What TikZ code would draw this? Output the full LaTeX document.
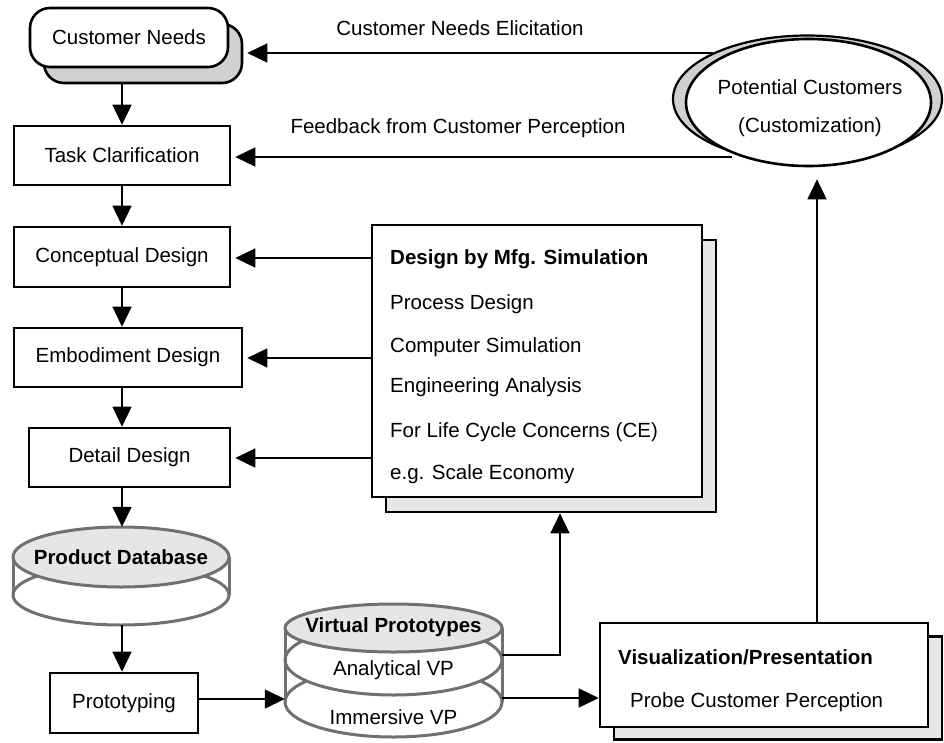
\documentclass[tikz,border=0pt]{standalone}
\usepackage{fontspec}
\setmainfont{Liberation Sans}
\usetikzlibrary{arrows.meta,shapes.geometric}
\definecolor{shadowgray}{HTML}{D0D0D2}
\definecolor{lightfill}{HTML}{E6E6E8}
\definecolor{cylgray}{HTML}{707070}
\begin{document}
\begin{tikzpicture}[x=1pt,y=-1pt,
  font=\fontsize{20.5}{24}\selectfont,
  box/.style={draw=black,line width=2.6pt,fill=white,inner sep=0pt},
  arr/.style={draw=black,line width=1.5pt,-{Triangle[length=20pt,width=19pt]}},
  txt/.style={inner sep=0pt,anchor=base west},
  ctxt/.style={inner sep=0pt},
  cyl/.style={draw=cylgray,line width=3pt},
  hidden/.style={draw=none,inner sep=0pt}
]
\useasboundingbox[fill=white] (0,0) rectangle (944,742);

% ---------- left column ----------
\node[box,fill=shadowgray,rounded corners=20pt,minimum width=198pt,minimum height=59pt] (cns) at (143,53.5) {};
\node[box,rounded corners=20pt,minimum width=198pt,minimum height=59pt] (cn) at (129,37.5) {Customer Needs};
\node[box,minimum width=216pt,minimum height=59pt] (tc) at (122,155.5) {Task Clarification};
\node[box,minimum width=216pt,minimum height=60pt] (cd) at (122,257) {Conceptual Design};
\node[box,minimum width=228pt,minimum height=59pt] (ed) at (128,357.5) {Embodiment Design};
\node[box,minimum width=201pt,minimum height=59pt] (dd) at (129.5,457.5) {Detail Design};
\node[box,minimum width=148pt,minimum height=60pt] (pt) at (124,703) {Prototyping};

% ---------- Product Database cylinder ----------
\node[hidden,minimum width=216pt,minimum height=98pt] (pd) at (121,576) {};
\draw[cyl,fill=white] (121,595) ellipse [x radius=108pt, y radius=30pt];
\draw[cyl] (13,557) -- (13,595) (229,557) -- (229,595);
\draw[cyl,fill=lightfill] (121,557) ellipse [x radius=108pt, y radius=30pt];
\node[ctxt,font=\fontsize{20.5}{24}\selectfont\bfseries] (pdt) at (121,557) {Product Database};

% ---------- Virtual Prototypes cylinder ----------
\node[hidden,minimum width=217pt,minimum height=132pt] (vp) at (393.5,671) {};
\draw[cyl,fill=white] (393.5,702) ellipse [x radius=108.5pt, y radius=35pt];
\draw[cyl,fill=white] (393.5,660) ellipse [x radius=108.5pt, y radius=35pt];
\draw[cyl] (285,628) -- (285,702) (502,628) -- (502,702);
\draw[cyl,fill=lightfill] (393.5,628) ellipse [x radius=108.5pt, y radius=24pt];
\node[ctxt,font=\fontsize{20.5}{24}\selectfont\bfseries] (vpt) at (393.5,627) {Virtual Prototypes};
\node[ctxt] (avp) at (393.5,670) {Analytical VP};
\node[ctxt] (ivp) at (393.5,717) {Immersive VP};

% ---------- Design by Mfg. Simulation ----------
\node[box,fill=lightfill,minimum width=330pt,minimum height=272pt] (dms) at (551,376) {};
\node[box,minimum width=330pt,minimum height=272pt] (dm) at (537,361) {};
\node[txt,font=\fontsize{20.5}{24}\selectfont\bfseries] (dm1) at (390,264.5) {Design by Mfg. Simulation};
\node[txt] (dm2) at (390,309.5) {Process Design};
\node[txt] (dm3) at (390,352.5) {Computer Simulation};
\node[txt] (dm4) at (390,392.5) {Engineering Analysis};
\node[txt] (dm5) at (390,437.5) {For Life Cycle Concerns (CE)};
\node[txt] (dm6) at (390,479.5) {e.g. Scale Economy};

% ---------- Visualization / Presentation ----------
\node[box,fill=lightfill,minimum width=328pt,minimum height=103pt] (viss) at (778,688) {};
\node[box,minimum width=328pt,minimum height=104pt] (vis) at (764,675) {};
\node[txt,font=\fontsize{20.5}{24}\selectfont\bfseries] (vis1) at (618,664.5) {Visualization/Presentation};
\node[txt] (vis2) at (630,707.5) {Probe Customer Perception};

% ---------- Potential Customers ----------
\node[ellipse,draw=black,line width=2.2pt,fill=shadowgray,minimum width=269pt,minimum height=127pt,inner sep=0pt] (pcs) at (807.5,99) {};
\node[ellipse,draw=black,line width=2.6pt,fill=white,minimum width=245pt,minimum height=127pt,inner sep=0pt] (pc) at (808.5,102.5) {};
\node[ctxt] (pc1) at (810,87) {Potential Customers};
\node[ctxt] (pc2) at (810,127) {(Customization)};

% ---------- connector labels ----------
\node[ctxt] (lab1) at (460,28) {Customer Needs Elicitation};
\node[ctxt] (lab2) at (458,128) {Feedback from Customer Perception};

% ---------- connectors ----------
\draw[arr] (tc.north |- cns.south) -- (tc.north);
\draw[arr] (tc.south) -- (cd.north);
\draw[arr] (cd.south) -- (cd.south |- ed.north);
\draw[arr] (ed.south -| cd.south) -- (cd.south |- dd.north);
\draw[arr] (dd.south -| cd.south) -- (cd.south |- pd.north);
\draw[arr] (pd.south -| cd.south) -- (cd.south |- pt.north);

\draw[arr,shorten >=4pt] (dm.west |- 0,258) -- (cd.east |- 0,258);
\draw[arr,shorten >=4pt] (dm.west |- 0,358) -- (ed.east |- 0,358);
\draw[arr,shorten >=4pt] (dm.west |- 0,458) -- (dd.east |- 0,458);

\coordinate (el) at (713,53);
\coordinate (fb) at (732,157);
\draw[arr,shorten >=4pt] (el) -- (el -| cns.east);
\draw[arr,shorten >=4pt] (fb) -- (fb -| tc.east);

\draw[arr] (pt.east |- 0,699) -- (vp.west |- 0,699);
\draw[arr] (vp.east |- 0,655) -| (dms.south -| 560,0);
\draw[arr] (vp.east |- 0,698) -- (vis.west |- 0,698);
\draw[arr,shorten >=12pt] (vis.north -| 817,0) -- (pc.south -| 817,0);
\end{tikzpicture}
\end{document}
